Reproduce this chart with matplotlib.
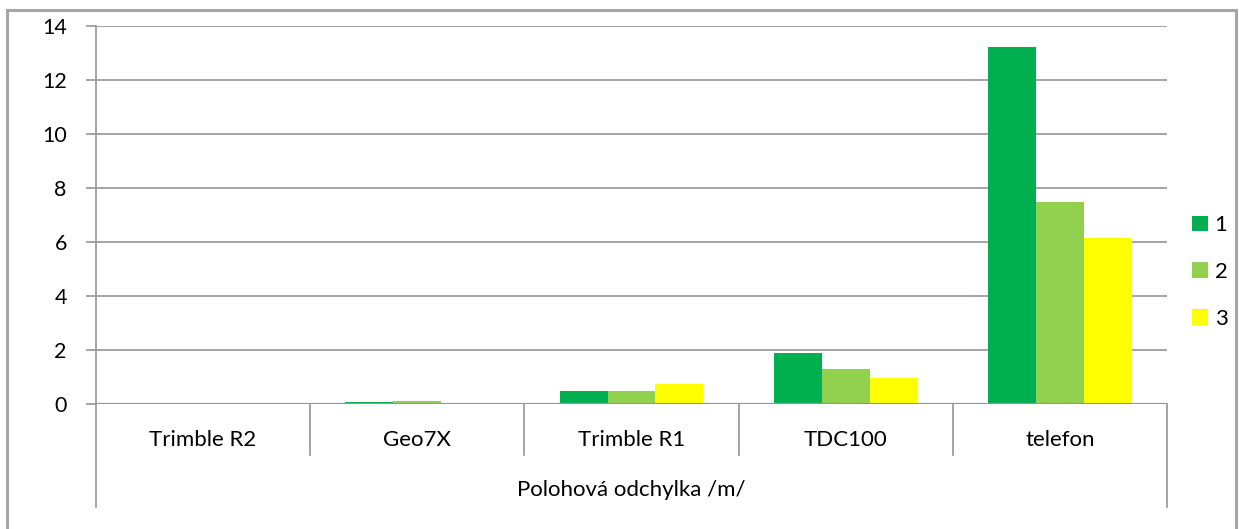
import numpy as np
import matplotlib
matplotlib.use("Agg")
import matplotlib.pyplot as plt
from matplotlib.patches import Rectangle
import matplotlib.transforms as mtransforms

# data
categories = ["Trimble R2", "Geo7X", "Trimble R1", "TDC100", "telefon"]
series_names = ["1", "2", "3"]
values_1 = [0.0, 0.07, 0.47, 1.88, 13.23]
values_2 = [0.0, 0.10, 0.48, 1.30, 7.47]
values_3 = [0.0, 0.02, 0.73, 0.96, 6.15]
colors = ["#00b050", "#92d050", "#ffff00"]
group_label = "Polohová odchylka /m/"

plt.rcParams["font.family"] = ["Lato", "DejaVu Sans"]

W, H = 1239, 529
fig = plt.figure(figsize=(W / 100, H / 100), dpi=100)

# outer chart border
fig.patches.append(Rectangle((7 / W, -0.05), (1236 - 7) / W, 1 - 10 / H + 0.05,
                             transform=fig.transFigure, fill=False,
                             edgecolor="#a6a6a6", linewidth=2.2))

ax = fig.add_axes([96 / W, 1 - 404 / H, (1167 - 96) / W, (404 - 26) / H])

x = np.arange(len(categories))
bw = 0.224
for i, (vals, name) in enumerate(zip([values_1, values_2, values_3], series_names)):
    ax.bar(x + (i - 1) * bw, vals, width=bw, color=colors[i], label=name, zorder=3)

ax.set_xlim(-0.5, len(categories) - 0.5)
ax.set_ylim(0, 14)
ax.set_yticks(np.arange(0, 15, 2))
ax.yaxis.grid(True, color="#959595", linewidth=1.2, zorder=0)
ax.tick_params(axis="y", length=7, width=1.2, color="#959595", labelsize=15.5, pad=14)
ax.set_xticks([])
for s in ["top", "right", "bottom"]:
    ax.spines[s].set_visible(False)
ax.spines["left"].set_color("#959595")
ax.spines["left"].set_linewidth(1.2)
ax.axhline(0, color="#959595", linewidth=1.6, zorder=4)

# hierarchical category axis below the plot
trans = mtransforms.blended_transform_factory(ax.transData, ax.transAxes)
axh = 404 - 26
for k in range(len(categories) + 1):
    bottom = -(507 - 404) / axh if k in (0, len(categories)) else -(455 - 404) / axh
    ax.plot([k - 0.5, k - 0.5], [0, bottom], transform=trans, color="#959595",
            linewidth=1.2, clip_on=False)
for k, c in enumerate(categories):
    ax.text(k, -(440 - 404) / axh, c, transform=trans, ha="center", va="center", fontsize=16)
ax.text((len(categories) - 1) / 2, -(490 - 404) / axh, group_label, transform=trans,
        ha="center", va="center", fontsize=16)

ax.legend(loc="center left", bbox_to_anchor=(1.005, (404 - 272) / axh), frameon=False,
          fontsize=16, handlelength=0.7, handleheight=0.7, handletextpad=0.3,
          labelspacing=1.2)

fig.savefig("out.png", dpi=100)
